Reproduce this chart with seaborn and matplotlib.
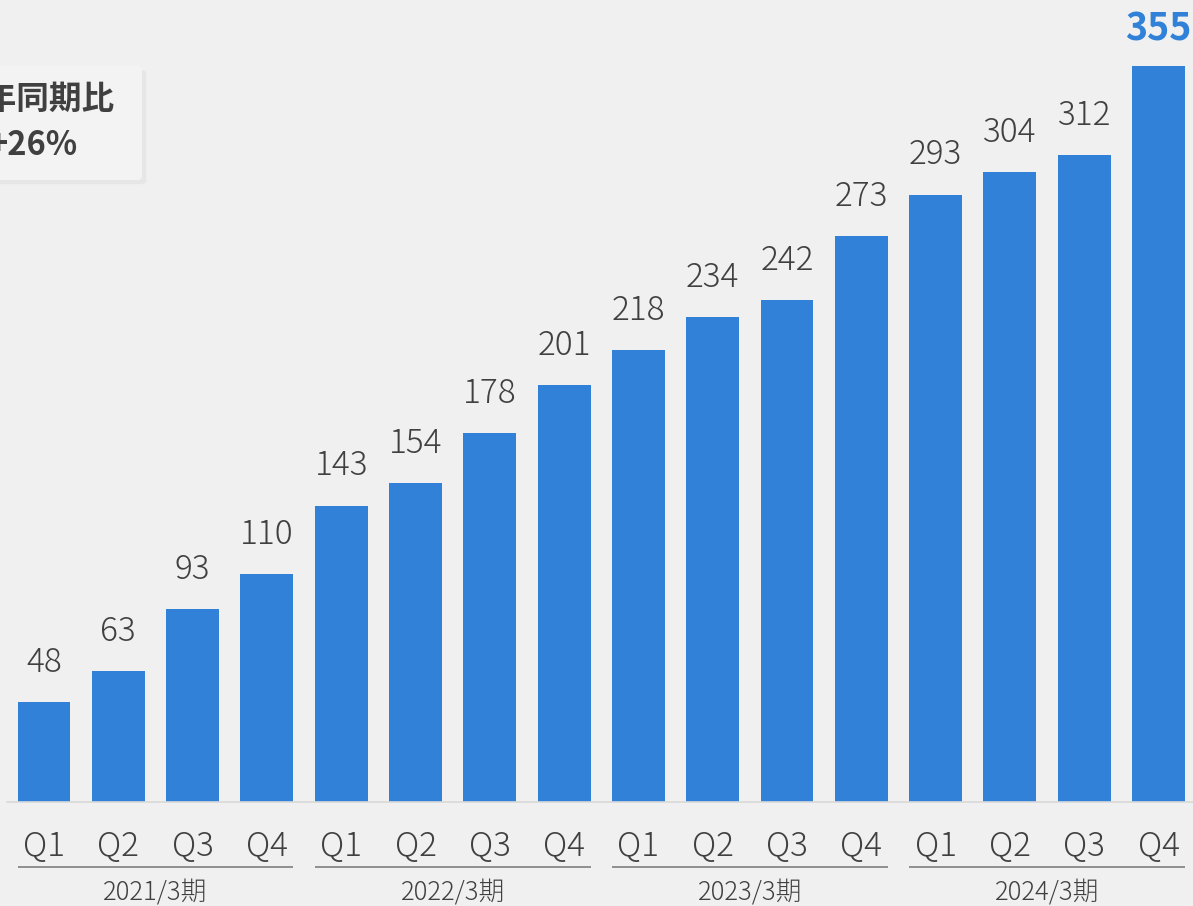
import matplotlib
matplotlib.use("Agg")
import matplotlib.pyplot as plt
import seaborn as sns
import pandas as pd
from matplotlib.patches import FancyBboxPatch
import matplotlib.patheffects as pe

years = ["2021/3期", "2022/3期", "2023/3期", "2024/3期"]
quarters = ["Q1", "Q2", "Q3", "Q4"]
values = [48, 63, 93, 110, 143, 154, 178, 201, 218, 234, 242, 273, 293, 304, 312, 355]
box_lines = ["前年同期比", "+26%"]

sns.set_theme(style="white")
plt.rcParams['font.family'] = ['Noto Sans CJK JP', 'DejaVu Sans']

BG = "#f0f0f0"
BAR = "#3081d7"
TXT = "#404040"

rows = []
for yi, y in enumerate(years):
    for q in quarters:
        rows.append({"key": f"{y} {q}", "year": y, "q": q})
df = pd.DataFrame(rows)
df["value"] = values

W, H = 1193, 906
fig = plt.figure(figsize=(W / 100, H / 100), dpi=100, facecolor=BG)
ax = fig.add_axes([0, (H - 802) / H, 1, 802 / H])
ax.set_facecolor(BG)

sns.barplot(data=df, x="key", y="value", order=list(df["key"]), color=BAR,
            width=0.713, saturation=1, ax=ax, linewidth=0)

step = 74.3
ax.set_xlim(-44 / step, (W - 44) / step)
ax.set_ylim(0, 802 / 2.073)
for s in ax.spines.values():
    s.set_visible(False)
ax.set_xticks([])
ax.set_yticks([])
ax.set_xlabel("")
ax.set_ylabel("")

# baseline
ax.axhline(0, color="#d9d9d9", lw=1.2, xmin=7 / W, xmax=1, clip_on=False)

n = len(values)
for i, v in enumerate(values):
    if i == n - 1:
        ax.annotate(str(v), (i, v), xytext=(0, 13), textcoords="offset points",
                    ha="center", va="bottom", fontsize=27, fontweight="bold",
                    color=BAR)
    else:
        ax.annotate(str(v), (i, v), xytext=(0, 16), textcoords="offset points",
                    ha="center", va="bottom", fontsize=24, fontweight="light",
                    color=TXT)

trans = ax.get_xaxis_transform()
for i in range(n):
    ax.text(i, -45 / 802, df["q"][i], transform=trans, ha="center", va="center",
            fontsize=24, fontweight="light", color=TXT, clip_on=False)

for yi, y in enumerate(years):
    x0 = yi * 4 - 0.713 / 2
    x1 = yi * 4 + 3 + 0.713 / 2
    ax.plot([x0, x1], [-65 / 802, -65 / 802], transform=trans, color="#7f7f7f",
            lw=1.2, clip_on=False, solid_capstyle="butt")
    ax.text(yi * 4 + 1.5, -91 / 802, y, transform=trans, ha="center",
            va="center", fontsize=18.5, fontweight="light", color=TXT,
            clip_on=False)

# comparison box
box = FancyBboxPatch((-60 / W, 1 - 180 / H), 202 / W, 114 / H,
                     boxstyle="round,pad=0,rounding_size=0.004",
                     transform=fig.transFigure, facecolor="#f3f3f3",
                     edgecolor="none", zorder=5,
                     path_effects=[pe.SimplePatchShadow(offset=(3, -3),
                                                        shadow_rgbFace="#000000",
                                                        alpha=0.04),
                                   pe.Normal()])
fig.patches.append(box)
fig.text(33 / W, 1 - 100 / H, box_lines[0], ha="center", va="center",
         fontsize=23.5, fontweight="bold", color=TXT, zorder=6)
fig.text(33 / W, 1 - 146 / H, box_lines[1], ha="center", va="center",
         fontsize=23.5, fontweight="bold", color=TXT, zorder=6)

fig.savefig("out.png", dpi=100, facecolor=BG)
